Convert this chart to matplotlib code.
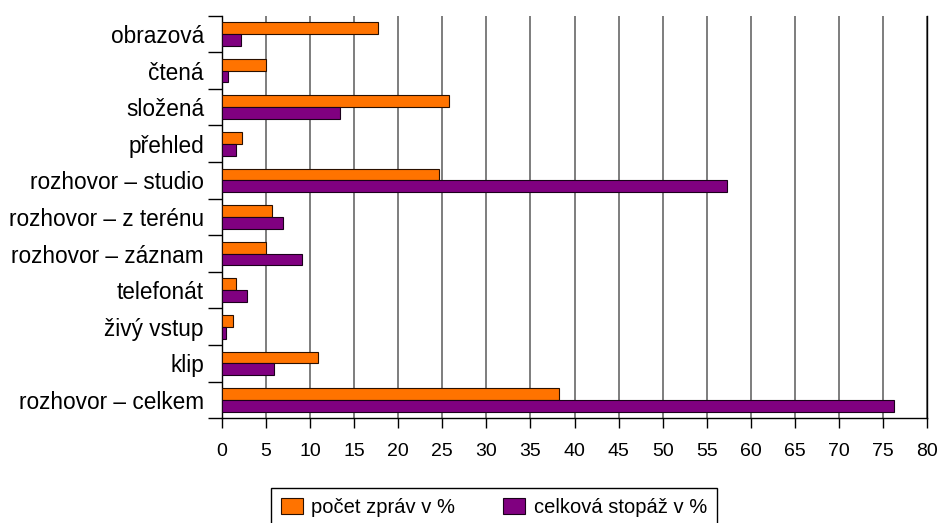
import matplotlib
matplotlib.use("Agg")
from matplotlib import pyplot as plt
import numpy as np

plt.rcParams['font.family'] = ['Liberation Sans', 'DejaVu Sans']

################################################################################
# Data
################################################################################

kategorie = ["obrazová", "čtená", "složená", "přehled", "rozhovor – studio",
             "rozhovor – z terénu", "rozhovor – záznam", "telefonát",
             "živý vstup", "klip", "rozhovor – celkem"]
pocet_zprav = [17.7, 5.0, 25.7, 2.3, 24.6, 5.7, 5.0, 1.6, 1.2, 10.9, 38.2]
stopaz = [2.1, 0.7, 13.4, 1.6, 57.3, 6.9, 9.1, 2.8, 0.45, 5.9, 76.2]

################################################################################
# Graf
################################################################################

fig = plt.figure(figsize=(9.42, 5.23), dpi=100)
ax = fig.add_axes([0.2357, 0.2002, 0.7484, 0.7698])

y = np.arange(len(kategorie))
h = 0.32
ax.barh(y - h / 2, pocet_zprav, height=h, color="#FF7300", edgecolor="#2a1000",
        linewidth=0.8, label="počet zpráv v %", zorder=3)
ax.barh(y + h / 2, stopaz, height=h, color="#800080", edgecolor="#1a001a",
        linewidth=0.8, label="celková stopáž v %", zorder=3)

ax.set_xlim(0, 80)
ax.set_ylim(len(kategorie) - 0.5, -0.5)
ax.set_xticks(np.arange(0, 81, 5))
ax.set_yticks(y)
ax.set_yticklabels(kategorie)
ax.set_yticks(np.arange(-0.5, len(kategorie)), minor=True)

ax.grid(True, axis="x", color="#5a5a5a", linewidth=1.1, zorder=0)
ax.tick_params(axis="x", labelsize=14, length=7, width=1, pad=11, color="black")
ax.tick_params(axis="y", which="major", labelsize=16.3, length=0, pad=13)
ax.tick_params(axis="y", which="minor", length=10, width=1, color="black")

ax.spines["top"].set_visible(False)
for s in ["left", "bottom", "right"]:
    ax.spines[s].set_color("black")
    ax.spines[s].set_linewidth(1)

fig.legend(loc="upper left", bbox_to_anchor=(0.2874, 0.0669),
           bbox_transform=fig.transFigure, ncol=2, fontsize=14.5,
           frameon=True, fancybox=False, edgecolor="black", framealpha=1,
           handlelength=1.1, handleheight=0.85, handletextpad=0.4,
           columnspacing=2.4, borderpad=0.5, borderaxespad=0)

plt.savefig("out.png", dpi=100)
